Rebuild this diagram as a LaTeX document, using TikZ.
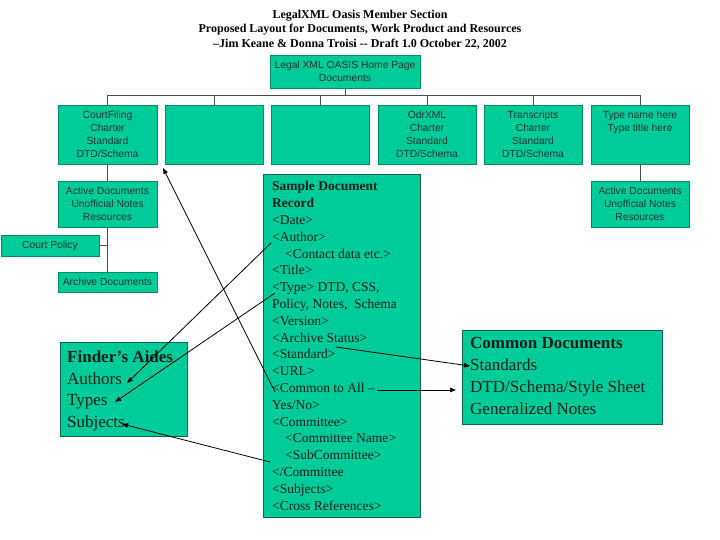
\documentclass[tikz,border=0pt]{standalone}
\usepackage{fontspec}
\setmainfont{Liberation Serif}
\setsansfont{Liberation Sans}
\usetikzlibrary{arrows.meta}
\definecolor{boxgreen}{RGB}{0,204,153}
\definecolor{boxedge}{RGB}{0,140,105}
\definecolor{bigedge}{RGB}{20,100,80}
\definecolor{ink}{RGB}{10,30,25}
\begin{document}
\begin{tikzpicture}[x=1pt,y=-1pt,
  sbox/.style={draw=boxedge, line width=0.5pt, fill=boxgreen, inner sep=0pt,
    font=\sffamily\fontsize{10.3}{12.9}\selectfont, align=center, text=ink!90},
  bbox/.style={draw=bigedge, line width=0.8pt, fill=boxgreen, inner sep=0pt},
  titlet/.style={font=\bfseries\fontsize{12}{14.7}\selectfont, anchor=base, inner sep=0pt},
  tree/.style={draw=black!70, line width=0.8pt},
  arr/.style={draw=black, line width=0.8pt, -{Triangle[length=6pt,width=4.5pt]}},
]
\useasboundingbox (0,0) rectangle (720,540);

% title
\node[titlet] (t1) at (360,18.3) {LegalXML Oasis Member Section};
\node[titlet] (t2) at (360,33) {Proposed Layout for Documents, Work Product and Resources};
\node[titlet] (t3) at (360,47.7) {–Jim Keane \& Donna Troisi -{}- Draft 1.0 October 22, 2002};

% home
\node[sbox, minimum width=150pt, minimum height=33pt] (home) at (345,71.5) {Legal XML OASIS Home Page\\Documents};

% row of charters
\node[sbox, minimum width=99pt, minimum height=59pt] (c1) at (107.5,134.5) {CourtFiling\\Charter\\Standard\\DTD/Schema};
\node[sbox, minimum width=98pt, minimum height=59pt] (c2) at (214,134.5) {};
\node[sbox, minimum width=98pt, minimum height=59pt] (c3) at (320,134.5) {};
\node[sbox, minimum width=98pt, minimum height=59pt] (c4) at (427,134.5) {OdrXML\\Charter\\Standard\\DTD/Schema};
\node[sbox, minimum width=98pt, minimum height=59pt] (c5) at (533,134.5) {Transcripts\\Charter\\Standard\\DTD/Schema};
\node[sbox, minimum width=98pt, minimum height=59pt] (c6) at (640,134.5) {Type name here\\Type title here\\\mbox{}\\\mbox{}};

% sub boxes
\node[sbox, minimum width=99pt, minimum height=46pt] (act1) at (107.5,204) {Active Documents\\Unofficial Notes\\Resources};
\node[sbox, minimum width=98pt, minimum height=21pt] (court) at (50,245.5) {Court Policy};
\node[sbox, minimum width=99pt, minimum height=20pt] (arch) at (107.5,282) {Archive Documents};
\node[sbox, minimum width=98pt, minimum height=46pt] (act2) at (640,204) {Active Documents\\Unofficial Notes\\Resources};

% tree connectors
\draw[tree] (home.south) -- ++(0,8);
\draw[tree] (c1.north) -- ++(0,-9) -| (c6.north);
\foreach \n in {c2,c3,c4,c5} \draw[tree] (\n.north) -- ++(0,-9);
\draw[tree] (c1.south) -- (act1.north);
\draw[tree] (act1.south) -- (arch.north);
\draw[tree] (court.east) -- (court.east -| act1.south);
\draw[tree] (c6.south) -- (act2.north);

% sample document record
\node[bbox, minimum width=157pt, minimum height=343pt, anchor=north west] (rec) at (263,174) {};
\node[anchor=north west, inner sep=0pt, align=left, text=ink,
  font=\fontsize{13.5}{16.8}\selectfont] (rectext) at (272,181.4) {%
\textbf{Sample Document}\\
\textbf{Record}\\
<Date>\\
<Author>\\
\hspace*{13pt}<Contact data etc.>\\
<Title>\\
<Type> DTD, CSS,\\
Policy, Notes,\ \ Schema\\
<Version>\\
<Archive Status>\\
<Standard>\\
<URL>\\
<Common to All –\\
Yes/No>\\
<Committee>\\
\hspace*{13pt}<Committee Name>\\
\hspace*{13pt}<SubCommittee>\\
</Committee\\
<Subjects>\\
<Cross References>};

% finder's aides
\node[bbox, minimum width=127pt, minimum height=94pt] (find) at (123.5,389) {};
\node[anchor=north west, inner sep=0pt, align=left, text=ink,
  font=\fontsize{17}{21.6}\selectfont] (findtext) at (67,350.5) {%
\textbf{Finder’s Aides}\\Authors\\Types\\Subjects};

% common documents
\node[bbox, minimum width=200pt, minimum height=94pt] (common) at (562,377) {};
\node[anchor=north west, inner sep=0pt, align=left, text=ink,
  font=\fontsize{17}{21.7}\selectfont] (commontext) at (470,337.5) {%
\textbf{Common Documents}\\Standards\\DTD/Schema/Style Sheet\\Generalized Notes};

% arrow end points
\coordinate (sAuthor) at (271,243);
\coordinate (sType) at (275,293);
\coordinate (sSubj) at (270,462);
\coordinate (sStd) at (336,347);
\coordinate (sCommon) at (377,390);
\coordinate (sLong) at (275,392);
\coordinate (tAuthors) at (127,383);
\coordinate (tTypes) at (115,402);
\coordinate (tSubjects) at (122,424);
\coordinate (tStandards) at (470,366);
\coordinate (tCommon) at (456,390);
\coordinate (tCourt) at (163,168);

\draw[arr] (sAuthor) -- (tAuthors);
\draw[arr] (sType) -- (tTypes);
\draw[arr] (sSubj) -- (tSubjects);
\draw[arr] (sStd) -- (tStandards);
\draw[arr] (sCommon) -- (tCommon);
\draw[arr] (sLong) -- (tCourt);
\end{tikzpicture}
\end{document}
